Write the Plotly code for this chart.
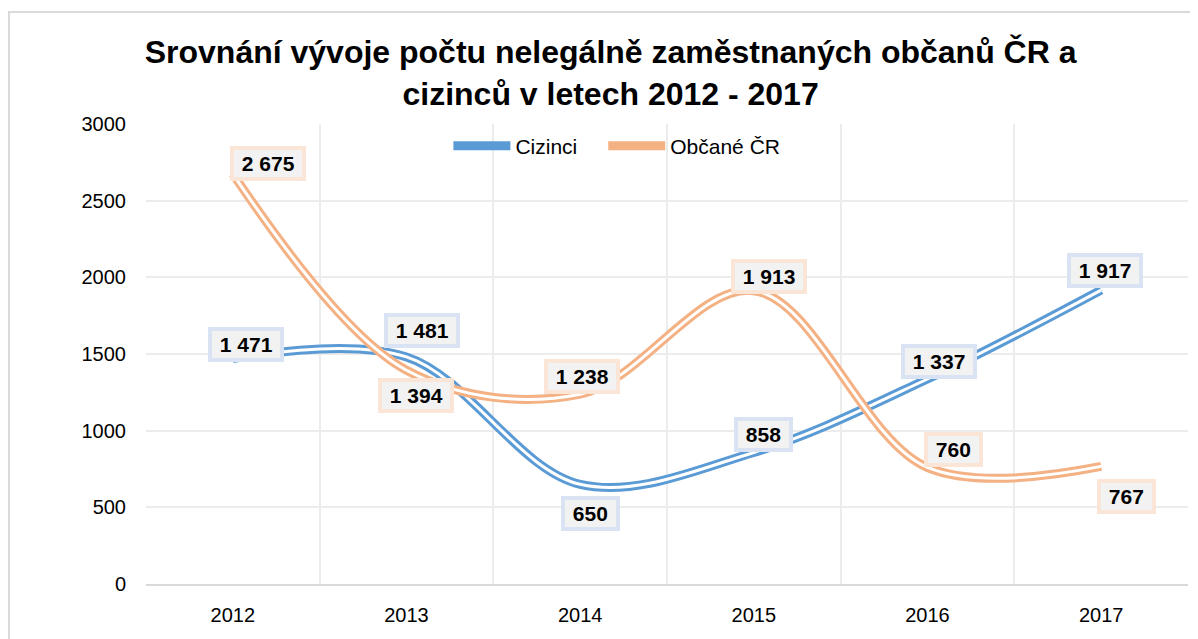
import plotly.graph_objects as go

years = ["2012", "2013", "2014", "2015", "2016", "2017"]
cizinci = [1471, 1481, 650, 858, 1337, 1917]
obcane = [2675, 1394, 1238, 1913, 760, 767]
y_ticks = [0, 500, 1000, 1500, 2000, 2500, 3000]

def fmt(v):
    return f"{v:,}".replace(",", " ")

xs = list(range(len(years)))
BLUE = "#5b9bd5"
ORANGE = "#f4b183"
FONT = "Liberation Sans, Arial"

fig = go.Figure()
for name, vals, col in [("Cizinci", cizinci, BLUE), ("Občané ČR", obcane, ORANGE)]:
    fig.add_trace(go.Scatter(x=xs, y=vals, mode="lines", name=name + "\u2003", legendgroup=name,
                             line=dict(color=col, width=9, shape="spline", smoothing=1.0)))
    fig.add_trace(go.Scatter(x=xs, y=vals, mode="lines", showlegend=False, legendgroup=name,
                             hoverinfo="skip",
                             line=dict(color="white", width=3, shape="spline", smoothing=1.0)))

# label offsets (px)
c_off = [(13, 14), (15, 26), (10, -29), (10, 18), (11, 17), (4, 20)]
o_off = [(35, 10), (9, -25), (2, 18), (15, 14), (26, 18), (25, -30)]

NB = "\u00a0"
for i, v in enumerate(cizinci):
    fig.add_annotation(x=xs[i], y=v, xref="x", yref="y", text=f"<b>{NB}{fmt(v)}{NB}</b>", showarrow=False,
                       xshift=c_off[i][0], yshift=c_off[i][1],
                       font=dict(family=FONT, size=21, color="black"),
                       bgcolor="#f2f2f2", bordercolor="#dae3f3", borderwidth=4, borderpad=2)
for i, v in enumerate(obcane):
    fig.add_annotation(x=xs[i], y=v, xref="x", yref="y", text=f"<b>{NB}{fmt(v)}{NB}</b>", showarrow=False,
                       xshift=o_off[i][0], yshift=o_off[i][1],
                       font=dict(family=FONT, size=21, color="black"),
                       bgcolor="#f2f2f2", bordercolor="#fbe5d6", borderwidth=4, borderpad=2)

# outer chart frame
fig.add_shape(type="rect", xref="paper", yref="paper", x0=-0.1315, x1=1.03, y0=-0.3, y1=1.2435,
              line=dict(color="#d9d9d9", width=2), fillcolor="rgba(0,0,0,0)", layer="below")

fig.update_layout(
    width=1198, height=639,
    paper_bgcolor="white", plot_bgcolor="white",
    margin=dict(l=138, r=18, t=116, b=63),
    title=dict(text="<b>Srovnání vývoje počtu nelegálně zaměstnaných občanů ČR a<br>cizinců v letech 2012 - 2017</b>",
               x=0.503, xanchor="center", y=0.914, yanchor="middle",
               font=dict(family=FONT, size=32, color="black")),
    font=dict(family=FONT, size=20, color="black"),
    legend=dict(orientation="h", x=0.462, xanchor="center", y=0.952, yanchor="middle",
                font=dict(size=21), bgcolor="rgba(0,0,0,0)", itemwidth=57),
    showlegend=True,
)
fig.update_xaxes(range=[-0.5, 5.5], tickmode="array", tickvals=xs, ticktext=years,
                 showgrid=False, showline=True, linecolor="#d9d9d9", linewidth=1.5,
                 ticks="", zeroline=False, tickfont=dict(size=20), ticklabelstandoff=12,
                 minor=dict(tickmode="array", tickvals=[-0.5, 0.5, 1.5, 2.5, 3.5, 4.5, 5.5],
                            showgrid=True, gridcolor="#ececec", gridwidth=1.5))
fig.update_yaxes(range=[0, 3000], tickmode="array", tickvals=y_ticks,
                 showgrid=True, gridcolor="#ececec", gridwidth=1.5, zeroline=False,
                 showline=False, ticks="", ticklabelstandoff=19, tickfont=dict(size=20))

fig.write_html("out.html")
